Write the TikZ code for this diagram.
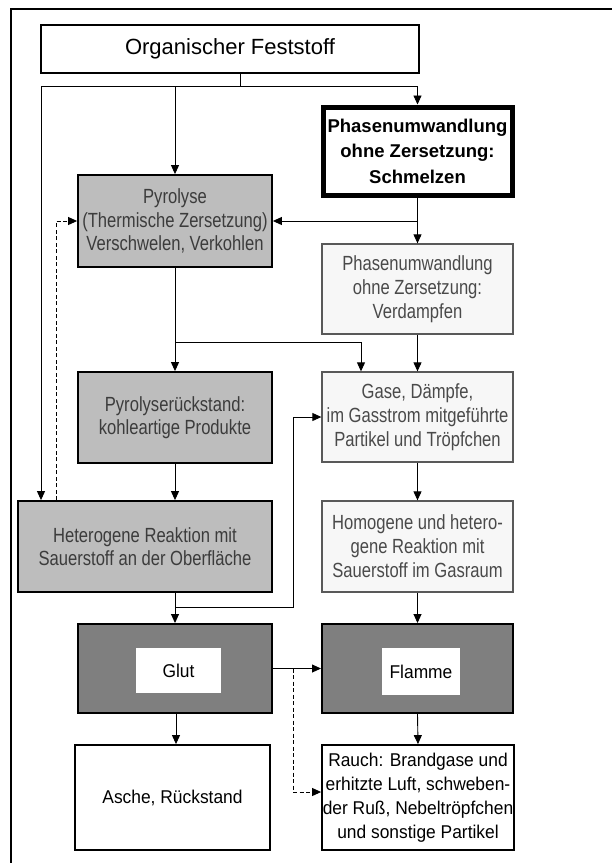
\documentclass[tikz,border=0pt]{standalone}
\usepackage{fontspec}
\setmainfont{Liberation Sans}
\newfontfamily\narrowsf[FakeStretch=0.81]{Liberation Sans}
\newfontfamily\plainsf[FakeStretch=0.94]{Liberation Sans}
\usetikzlibrary{arrows.meta}

\definecolor{midgray}{HTML}{BDBDBD}
\definecolor{darkfill}{HTML}{7F7F7F}
\definecolor{lightfill}{HTML}{F7F7F7}
\definecolor{graytext}{HTML}{3C3C3C}
\definecolor{lighttext}{HTML}{4A4A4A}

\tikzset{
  box/.style={draw=black, line width=1.8pt, rectangle, inner sep=0pt, align=center},
  whitebox/.style={box, fill=white, text=black, font=\plainsf\fontsize{18.5}{24}\selectfont},
  titlebox/.style={box, fill=white, line width=1.5pt, font=\fontsize{22}{25}\selectfont},
  heavybox/.style={box, fill=white, line width=5pt, font=\bfseries\fontsize{18.5}{25.5}\selectfont},
  graybox/.style={box, fill=midgray, text=graytext, font=\narrowsf\fontsize{20.5}{23.5}\selectfont},
  lightbox/.style={box, fill=lightfill, draw=black!65, line width=1.3pt, text=lighttext,
    font=\narrowsf\fontsize{20.5}{24}\selectfont},
  darkbox/.style={box, fill=darkfill, line width=2pt},
  labelbox/.style={rectangle, fill=white, inner sep=0pt, font=\plainsf\fontsize{18.5}{20}\selectfont},
  arr/.style={line width=0.9pt, -{Triangle[length=9pt,width=8pt]}},
  link/.style={line width=0.9pt},
  dasharr/.style={arr, dashed, dash pattern=on 4pt off 2.5pt},
  frame/.style={line width=1.6pt}
}

\begin{document}
\begin{tikzpicture}[x=1pt, y=-1pt]
  \useasboundingbox (0,0) rectangle (612,863);
  \fill[white] (0,0) rectangle (612,863);

  % outer frame (top and left edges)
  \draw[frame] (11,863) -- (11,9) -- (612,9);

  % boxes
  \node[titlebox, minimum width=378pt, minimum height=48pt] (fest) at (230,49) {Organischer Feststoff};
  \node[heavybox, minimum width=189pt, minimum height=88pt] (schmelz) at (417.5,151)
    {Phasenumwandlung\\ohne Zersetzung:\\Schmelzen};
  \node[graybox, minimum width=194pt, minimum height=92pt] (pyro) at (175,221)
    {Pyrolyse\\(Thermische Zersetzung)\\Verschwelen, Verkohlen};
  \node[lightbox, minimum width=191pt, minimum height=90pt] (verd) at (417.5,289)
    {Phasenumwandlung\\ohne Zersetzung:\\Verdampfen};
  \node[graybox, minimum width=194pt, minimum height=91pt] (rueck) at (175,417.5)
    {Pyrolyserückstand:\\kohleartige Produkte};
  \node[lightbox, minimum width=191pt, minimum height=90pt] (gase) at (417.5,417)
    {Gase, Dämpfe,\\im Gasstrom mitgeführte\\Partikel und Tröpfchen};
  \node[graybox, minimum width=254pt, minimum height=91pt] (hetero) at (145,546.5)
    {Heterogene Reaktion mit\\Sauerstoff an der Oberfläche};
  \node[lightbox, minimum width=191pt, minimum height=91pt] (homo) at (417.5,546.5)
    {Homogene und hetero-\\gene Reaktion mit\\Sauerstoff im Gasraum};
  \node[darkbox, minimum width=194pt, minimum height=89pt] (glut) at (175,668.5) {};
  \node[labelbox, minimum width=85pt, minimum height=45pt] (glutlbl) at (178.5,670.5) {Glut};
  \node[darkbox, minimum width=191pt, minimum height=89pt] (flamme) at (417.5,668.5) {};
  \node[labelbox, minimum width=78pt, minimum height=47pt] (flammelbl) at (421,671.5) {Flamme};
  \node[whitebox, minimum width=195pt, minimum height=105pt] (asche) at (172.5,797.5)
    {Asche, Rückstand};
  \node[whitebox, minimum width=192pt, minimum height=105pt] (rauch) at (418,797.5)
    {Rauch: Brandgase und\\erhitzte Luft, schweben-\\der Ruß, Nebeltröpfchen\\und sonstige Partikel};

  % junction points
  \coordinate (split) at (240,86);
  \coordinate (leftrail) at (41,86);
  \coordinate (pyrojoin) at (175,342);
  \coordinate (heterojoin) at (293,607);

  % from the solid fuel
  \draw[link] (fest.south -| split) -- (split);
  \draw[arr] (split) -| (schmelz.north);
  \draw[arr] (split) -| (pyro.north);
  \draw[arr] (split) -- (leftrail) -- (leftrail |- hetero.north);

  % melting branch
  \draw[arr] (schmelz.south) -- (verd.north);
  \draw[arr] (schmelz.south |- pyro.east) -- (pyro.east);

  % pyrolysis branch
  \draw[arr] (pyro.south) -- (rueck.north);
  \draw[arr] (pyrojoin) -| ([xshift=-56.5pt]gase.north);
  \draw[arr] (verd.south) -- (gase.north);
  \draw[arr] (rueck.south) -- (rueck.south |- hetero.north);
  \draw[dasharr] ([xshift=39pt]hetero.north west) |- (pyro.west);

  % gas phase
  \draw[arr] (gase.south) -- (homo.north);
  \draw[arr] (homo.south) -- (flamme.north);

  % surface reaction
  \draw[arr] (glut.north |- hetero.south) -- (glut.north);
  \draw[arr] (glut.north |- heterojoin) -- (heterojoin) |- (gase.west);

  % glowing and flaming
  \draw[arr] (glut.east) -- (flamme.west);
  \draw[dasharr] (glut.east -| heterojoin) |- ([yshift=5.5pt]rauch.west);
  \draw[arr] ([xshift=1pt]glut.south) -- ([xshift=1pt]glut.south |- asche.north);
  \draw[arr] (flamme.south) -- (rauch.north);
\end{tikzpicture}
\end{document}
